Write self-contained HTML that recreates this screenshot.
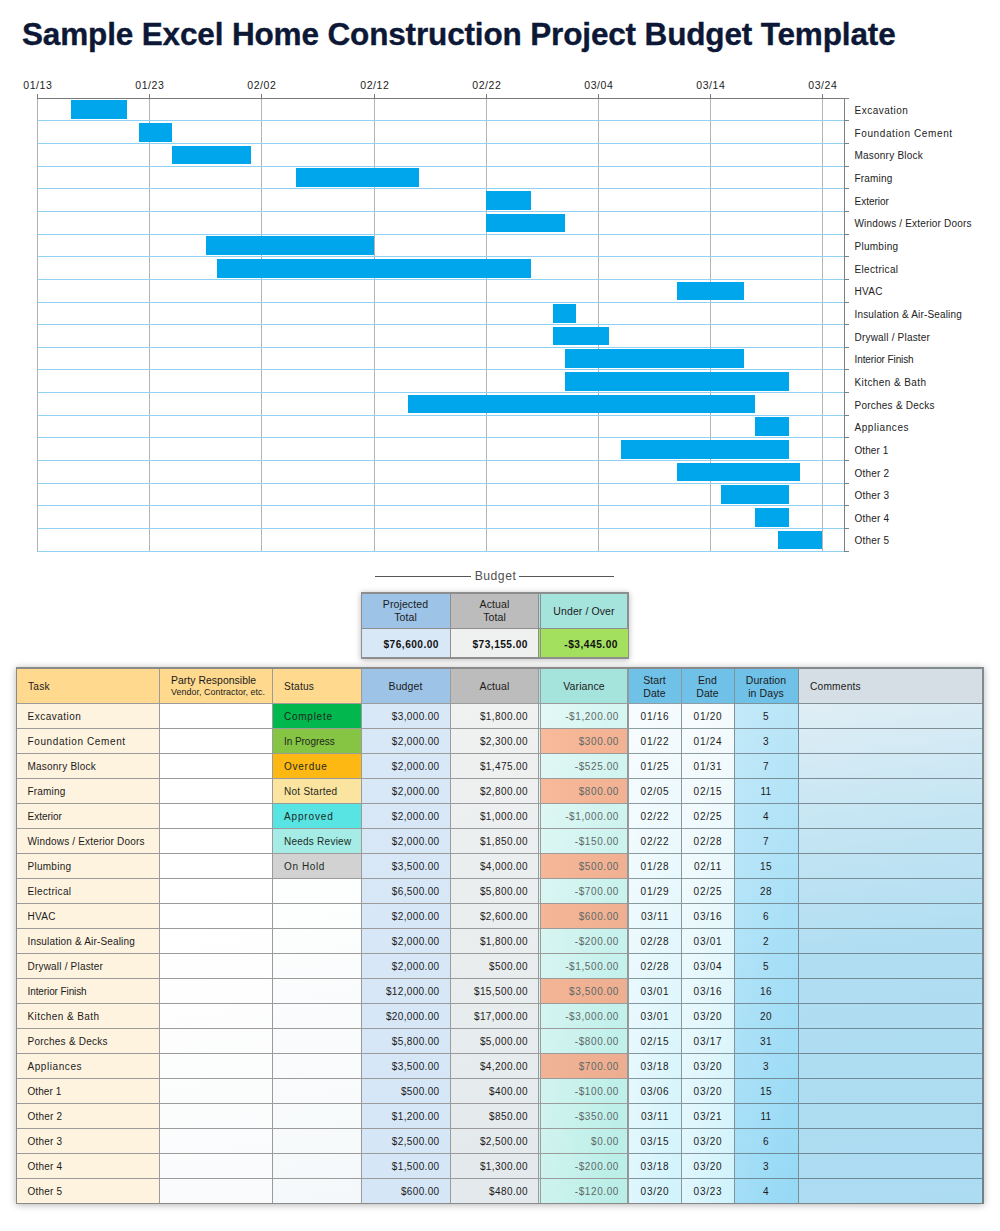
<!DOCTYPE html>
<html><head><meta charset="utf-8"><title>Sample Excel Home Construction Project Budget Template</title>
<style>
html,body{margin:0;padding:0;background:#fff;}
body{width:1000px;height:1231px;position:relative;overflow:hidden;font-family:"Liberation Sans",sans-serif;color:#1b1b1b;}
.a{position:absolute;white-space:nowrap;}
#title{left:22px;top:14px;-webkit-text-stroke:0.35px #0c1836;font-size:31.5px;font-weight:bold;color:#0c1836;letter-spacing:-0.15px;line-height:40px;}
svg{position:absolute;left:0;top:0;}
.t{font-size:10px;letter-spacing:0.45px;line-height:12px;}
.n{font-size:10px;letter-spacing:0.35px;line-height:12px;}
.h{font-size:10.5px;letter-spacing:0.1px;line-height:12.5px;text-align:center;}
.cb{position:absolute;}
.ln{position:absolute;background:#949899;}
</style></head><body>
<div id="title" class="a">Sample Excel Home Construction Project Budget Template</div>
<svg width="1000" height="600" viewBox="0 0 1000 600">
<line x1="149.5" y1="98" x2="149.5" y2="552" stroke="#b5b5b5" stroke-width="1"/>
<line x1="261.5" y1="98" x2="261.5" y2="552" stroke="#b5b5b5" stroke-width="1"/>
<line x1="374.5" y1="98" x2="374.5" y2="552" stroke="#b5b5b5" stroke-width="1"/>
<line x1="486.5" y1="98" x2="486.5" y2="552" stroke="#b5b5b5" stroke-width="1"/>
<line x1="598.5" y1="98" x2="598.5" y2="552" stroke="#b5b5b5" stroke-width="1"/>
<line x1="710.5" y1="98" x2="710.5" y2="552" stroke="#b5b5b5" stroke-width="1"/>
<line x1="822.5" y1="98" x2="822.5" y2="552" stroke="#b5b5b5" stroke-width="1"/>
<line x1="38" y1="120.50" x2="844" y2="120.50" stroke="#8fd3f4" stroke-width="1"/>
<line x1="38" y1="143.50" x2="844" y2="143.50" stroke="#8fd3f4" stroke-width="1"/>
<line x1="38" y1="166.50" x2="844" y2="166.50" stroke="#8fd3f4" stroke-width="1"/>
<line x1="38" y1="188.50" x2="844" y2="188.50" stroke="#8fd3f4" stroke-width="1"/>
<line x1="38" y1="211.50" x2="844" y2="211.50" stroke="#8fd3f4" stroke-width="1"/>
<line x1="38" y1="234.50" x2="844" y2="234.50" stroke="#8fd3f4" stroke-width="1"/>
<line x1="38" y1="256.50" x2="844" y2="256.50" stroke="#8fd3f4" stroke-width="1"/>
<line x1="38" y1="279.50" x2="844" y2="279.50" stroke="#8fd3f4" stroke-width="1"/>
<line x1="38" y1="302.50" x2="844" y2="302.50" stroke="#8fd3f4" stroke-width="1"/>
<line x1="38" y1="324.50" x2="844" y2="324.50" stroke="#8fd3f4" stroke-width="1"/>
<line x1="38" y1="347.50" x2="844" y2="347.50" stroke="#8fd3f4" stroke-width="1"/>
<line x1="38" y1="369.50" x2="844" y2="369.50" stroke="#8fd3f4" stroke-width="1"/>
<line x1="38" y1="392.50" x2="844" y2="392.50" stroke="#8fd3f4" stroke-width="1"/>
<line x1="38" y1="415.50" x2="844" y2="415.50" stroke="#8fd3f4" stroke-width="1"/>
<line x1="38" y1="437.50" x2="844" y2="437.50" stroke="#8fd3f4" stroke-width="1"/>
<line x1="38" y1="460.50" x2="844" y2="460.50" stroke="#8fd3f4" stroke-width="1"/>
<line x1="38" y1="483.50" x2="844" y2="483.50" stroke="#8fd3f4" stroke-width="1"/>
<line x1="38" y1="505.50" x2="844" y2="505.50" stroke="#8fd3f4" stroke-width="1"/>
<line x1="38" y1="528.50" x2="844" y2="528.50" stroke="#8fd3f4" stroke-width="1"/>
<line x1="38" y1="551.50" x2="844" y2="551.50" stroke="#8fd3f4" stroke-width="1"/>
<rect x="71" y="100" width="56" height="19" fill="#00a6ec" shape-rendering="crispEdges"/>
<rect x="139" y="123" width="33" height="19" fill="#00a6ec" shape-rendering="crispEdges"/>
<rect x="172" y="146" width="79" height="18" fill="#00a6ec" shape-rendering="crispEdges"/>
<rect x="296" y="168" width="123" height="19" fill="#00a6ec" shape-rendering="crispEdges"/>
<rect x="486" y="191" width="45" height="19" fill="#00a6ec" shape-rendering="crispEdges"/>
<rect x="486" y="214" width="79" height="18" fill="#00a6ec" shape-rendering="crispEdges"/>
<rect x="206" y="236" width="168" height="19" fill="#00a6ec" shape-rendering="crispEdges"/>
<rect x="217" y="259" width="314" height="19" fill="#00a6ec" shape-rendering="crispEdges"/>
<rect x="677" y="282" width="67" height="18" fill="#00a6ec" shape-rendering="crispEdges"/>
<rect x="553" y="304" width="23" height="19" fill="#00a6ec" shape-rendering="crispEdges"/>
<rect x="553" y="327" width="56" height="18" fill="#00a6ec" shape-rendering="crispEdges"/>
<rect x="565" y="349" width="179" height="19" fill="#00a6ec" shape-rendering="crispEdges"/>
<rect x="565" y="372" width="224" height="19" fill="#00a6ec" shape-rendering="crispEdges"/>
<rect x="408" y="395" width="347" height="18" fill="#00a6ec" shape-rendering="crispEdges"/>
<rect x="755" y="417" width="34" height="19" fill="#00a6ec" shape-rendering="crispEdges"/>
<rect x="621" y="440" width="168" height="19" fill="#00a6ec" shape-rendering="crispEdges"/>
<rect x="677" y="463" width="123" height="18" fill="#00a6ec" shape-rendering="crispEdges"/>
<rect x="721" y="485" width="68" height="19" fill="#00a6ec" shape-rendering="crispEdges"/>
<rect x="755" y="508" width="34" height="19" fill="#00a6ec" shape-rendering="crispEdges"/>
<rect x="778" y="531" width="44" height="18" fill="#00a6ec" shape-rendering="crispEdges"/>
<line x1="37.5" y1="98" x2="37.5" y2="552" stroke="#b0b0b0" stroke-width="1"/>
<line x1="37.5" y1="94" x2="37.5" y2="98.5" stroke="#7a7a7a" stroke-width="1"/>
<line x1="149.5" y1="94" x2="149.5" y2="98.5" stroke="#7a7a7a" stroke-width="1"/>
<line x1="261.5" y1="94" x2="261.5" y2="98.5" stroke="#7a7a7a" stroke-width="1"/>
<line x1="374.5" y1="94" x2="374.5" y2="98.5" stroke="#7a7a7a" stroke-width="1"/>
<line x1="486.5" y1="94" x2="486.5" y2="98.5" stroke="#7a7a7a" stroke-width="1"/>
<line x1="598.5" y1="94" x2="598.5" y2="98.5" stroke="#7a7a7a" stroke-width="1"/>
<line x1="710.5" y1="94" x2="710.5" y2="98.5" stroke="#7a7a7a" stroke-width="1"/>
<line x1="822.5" y1="94" x2="822.5" y2="98.5" stroke="#7a7a7a" stroke-width="1"/>
<line x1="37" y1="98.5" x2="849" y2="98.5" stroke="#7a7a7a" stroke-width="1.1"/>
<line x1="844.5" y1="98" x2="844.5" y2="552" stroke="#808080" stroke-width="1"/>
<line x1="844" y1="98.50" x2="849" y2="98.50" stroke="#808080" stroke-width="1"/>
<line x1="844" y1="120.50" x2="849" y2="120.50" stroke="#808080" stroke-width="1"/>
<line x1="844" y1="143.50" x2="849" y2="143.50" stroke="#808080" stroke-width="1"/>
<line x1="844" y1="166.50" x2="849" y2="166.50" stroke="#808080" stroke-width="1"/>
<line x1="844" y1="188.50" x2="849" y2="188.50" stroke="#808080" stroke-width="1"/>
<line x1="844" y1="211.50" x2="849" y2="211.50" stroke="#808080" stroke-width="1"/>
<line x1="844" y1="234.50" x2="849" y2="234.50" stroke="#808080" stroke-width="1"/>
<line x1="844" y1="256.50" x2="849" y2="256.50" stroke="#808080" stroke-width="1"/>
<line x1="844" y1="279.50" x2="849" y2="279.50" stroke="#808080" stroke-width="1"/>
<line x1="844" y1="302.50" x2="849" y2="302.50" stroke="#808080" stroke-width="1"/>
<line x1="844" y1="324.50" x2="849" y2="324.50" stroke="#808080" stroke-width="1"/>
<line x1="844" y1="347.50" x2="849" y2="347.50" stroke="#808080" stroke-width="1"/>
<line x1="844" y1="369.50" x2="849" y2="369.50" stroke="#808080" stroke-width="1"/>
<line x1="844" y1="392.50" x2="849" y2="392.50" stroke="#808080" stroke-width="1"/>
<line x1="844" y1="415.50" x2="849" y2="415.50" stroke="#808080" stroke-width="1"/>
<line x1="844" y1="437.50" x2="849" y2="437.50" stroke="#808080" stroke-width="1"/>
<line x1="844" y1="460.50" x2="849" y2="460.50" stroke="#808080" stroke-width="1"/>
<line x1="844" y1="483.50" x2="849" y2="483.50" stroke="#808080" stroke-width="1"/>
<line x1="844" y1="505.50" x2="849" y2="505.50" stroke="#808080" stroke-width="1"/>
<line x1="844" y1="528.50" x2="849" y2="528.50" stroke="#808080" stroke-width="1"/>
<line x1="844" y1="551.50" x2="849" y2="551.50" stroke="#808080" stroke-width="1"/>
<text x="37.8" y="88.8" font-family="Liberation Sans" font-size="10.5" fill="#222" text-anchor="middle" letter-spacing="0.55">01/13</text>
<text x="149.8" y="88.8" font-family="Liberation Sans" font-size="10.5" fill="#222" text-anchor="middle" letter-spacing="0.55">01/23</text>
<text x="261.8" y="88.8" font-family="Liberation Sans" font-size="10.5" fill="#222" text-anchor="middle" letter-spacing="0.55">02/02</text>
<text x="374.8" y="88.8" font-family="Liberation Sans" font-size="10.5" fill="#222" text-anchor="middle" letter-spacing="0.55">02/12</text>
<text x="486.8" y="88.8" font-family="Liberation Sans" font-size="10.5" fill="#222" text-anchor="middle" letter-spacing="0.55">02/22</text>
<text x="598.8" y="88.8" font-family="Liberation Sans" font-size="10.5" fill="#222" text-anchor="middle" letter-spacing="0.55">03/04</text>
<text x="710.8" y="88.8" font-family="Liberation Sans" font-size="10.5" fill="#222" text-anchor="middle" letter-spacing="0.55">03/14</text>
<text x="822.8" y="88.8" font-family="Liberation Sans" font-size="10.5" fill="#222" text-anchor="middle" letter-spacing="0.55">03/24</text>
<text x="854.5" y="114.12" font-family="Liberation Sans" font-size="10" fill="#222" letter-spacing="0.5">Excavation</text>
<text x="854.5" y="136.78" font-family="Liberation Sans" font-size="10" fill="#222" letter-spacing="0.61">Foundation Cement</text>
<text x="854.5" y="159.43" font-family="Liberation Sans" font-size="10" fill="#222" letter-spacing="0.22">Masonry Block</text>
<text x="854.5" y="182.07" font-family="Liberation Sans" font-size="10" fill="#222" letter-spacing="0.18">Framing</text>
<text x="854.5" y="204.72" font-family="Liberation Sans" font-size="10" fill="#222" letter-spacing="0.0">Exterior</text>
<text x="854.5" y="227.38" font-family="Liberation Sans" font-size="10" fill="#222" letter-spacing="0.18">Windows / Exterior Doors</text>
<text x="854.5" y="250.02" font-family="Liberation Sans" font-size="10" fill="#222" letter-spacing="0.27">Plumbing</text>
<text x="854.5" y="272.67" font-family="Liberation Sans" font-size="10" fill="#222" letter-spacing="0.33">Electrical</text>
<text x="854.5" y="295.32" font-family="Liberation Sans" font-size="10" fill="#222" letter-spacing="0.33">HVAC</text>
<text x="854.5" y="317.98" font-family="Liberation Sans" font-size="10" fill="#222" letter-spacing="0.17">Insulation &amp; Air-Sealing</text>
<text x="854.5" y="340.62" font-family="Liberation Sans" font-size="10" fill="#222" letter-spacing="0.2">Drywall / Plaster</text>
<text x="854.5" y="363.27" font-family="Liberation Sans" font-size="10" fill="#222" letter-spacing="-0.1">Interior Finish</text>
<text x="854.5" y="385.92" font-family="Liberation Sans" font-size="10" fill="#222" letter-spacing="0.41">Kitchen &amp; Bath</text>
<text x="854.5" y="408.57" font-family="Liberation Sans" font-size="10" fill="#222" letter-spacing="0.24">Porches &amp; Decks</text>
<text x="854.5" y="431.22" font-family="Liberation Sans" font-size="10" fill="#222" letter-spacing="0.57">Appliances</text>
<text x="854.5" y="453.88" font-family="Liberation Sans" font-size="10" fill="#222" letter-spacing="0.08">Other 1</text>
<text x="854.5" y="476.52" font-family="Liberation Sans" font-size="10" fill="#222" letter-spacing="0.2">Other 2</text>
<text x="854.5" y="499.17" font-family="Liberation Sans" font-size="10" fill="#222" letter-spacing="0.2">Other 3</text>
<text x="854.5" y="521.82" font-family="Liberation Sans" font-size="10" fill="#222" letter-spacing="0.2">Other 4</text>
<text x="854.5" y="544.47" font-family="Liberation Sans" font-size="10" fill="#222" letter-spacing="0.2">Other 5</text>
<line x1="375" y1="576.5" x2="471" y2="576.5" stroke="#555" stroke-width="1"/>
<line x1="519" y1="576.5" x2="614" y2="576.5" stroke="#555" stroke-width="1"/>
<text x="495.5" y="580.2" font-family="Liberation Sans" font-size="12.2" fill="#505050" text-anchor="middle" letter-spacing="0.5">Budget</text>
</svg>
<div class="a" style="left:361px;top:592px;width:268px;height:67px;box-shadow:0 1px 6px rgba(0,0,0,0.28);"></div>
<div class="cb" style="left:361px;top:592px;width:268px;height:67px;background:#8e8e8e;"></div>
<div class="cb" style="left:362px;top:594px;width:88px;height:34px;background:#9dc3e7;"></div>
<div class="cb" style="left:451px;top:594px;width:87px;height:34px;background:#bbbcbb;"></div>
<div class="cb" style="left:539px;top:594px;width:1px;height:34px;background:#a5e3dd;"></div>
<div class="cb" style="left:541px;top:594px;width:86px;height:34px;background:#a5e3dd;"></div>
<div class="cb" style="left:362px;top:629px;width:88px;height:28px;background:#d9e8f7;"></div>
<div class="cb" style="left:451px;top:629px;width:87px;height:28px;background:#eff0f0;"></div>
<div class="cb" style="left:539px;top:629px;width:1px;height:28px;background:#a3e05e;"></div>
<div class="cb" style="left:541px;top:629px;width:87px;height:28px;background:#a3e05e;"></div>
<div class="a h" style="left:361px;top:598px;width:89px;">Projected<br>Total</div>
<div class="a h" style="left:450px;top:598px;width:89px;">Actual<br>Total</div>
<div class="a h" style="left:540px;top:605px;width:88px;">Under / Over</div>
<div class="a" style="left:361px;top:638.5px;width:78px;text-align:right;font-size:10.2px;font-weight:bold;letter-spacing:0.45px;line-height:12px;color:#111;">$76,600.00</div>
<div class="a" style="left:450px;top:638.5px;width:78px;text-align:right;font-size:10.2px;font-weight:bold;letter-spacing:0.45px;line-height:12px;color:#111;">$73,155.00</div>
<div class="a" style="left:540px;top:638.5px;width:78px;text-align:right;font-size:10.2px;font-weight:bold;letter-spacing:0.5px;line-height:12px;color:#111;">-$3,445.00</div>
<div class="a" style="left:16px;top:667px;width:968px;height:537px;box-shadow:0 1px 7px rgba(0,0,0,0.3);background:#fff;"></div>
<div class="cb" style="left:16px;top:667px;width:144px;height:36px;background:#fed98e;"></div>
<div class="cb" style="left:16px;top:703px;width:144px;height:501px;background:#fef3df;"></div>
<div class="cb" style="left:160px;top:667px;width:113px;height:36px;background:#fed98e;"></div>
<div class="cb" style="left:160px;top:703px;width:113px;height:501px;background:linear-gradient(170deg,#ffffff 0%,#ffffff 40%,#fafbfc 100%);"></div>
<div class="cb" style="left:273px;top:667px;width:89px;height:36px;background:#fed98e;"></div>
<div class="cb" style="left:273px;top:703px;width:89px;height:501px;background:linear-gradient(170deg,#ffffff 0%,#fdfefe 40%,#f5f8fa 100%);"></div>
<div class="cb" style="left:362px;top:667px;width:89px;height:36px;background:#9dc3e7;"></div>
<div class="cb" style="left:362px;top:703px;width:89px;height:501px;background:linear-gradient(175deg,#d9e8f7 0%,#d5e6f6 100%);"></div>
<div class="cb" style="left:451px;top:667px;width:88px;height:36px;background:#bbbcbb;"></div>
<div class="cb" style="left:451px;top:703px;width:88px;height:501px;background:linear-gradient(175deg,#f0f1f1 0%,#e9edee 50%,#e3e9ec 100%);"></div>
<div class="cb" style="left:539px;top:667px;width:89px;height:36px;background:#a5e3dd;"></div>
<div class="cb" style="left:539px;top:703px;width:89px;height:501px;background:linear-gradient(90deg,rgba(255,255,255,0.3),rgba(255,255,255,0) 85%),linear-gradient(175deg,#d7f6f2 0%,#c6f1ec 50%,#b9eee7 100%);"></div>
<div class="cb" style="left:628px;top:667px;width:54px;height:36px;background:#70c1e8;"></div>
<div class="cb" style="left:628px;top:703px;width:54px;height:501px;background:linear-gradient(90deg,rgba(255,255,255,0.3),rgba(255,255,255,0) 90%),linear-gradient(172deg,#f6fbfd 0%,#e3f7fc 50%,#d0f3fc 100%);"></div>
<div class="cb" style="left:682px;top:667px;width:53px;height:36px;background:#70c1e8;"></div>
<div class="cb" style="left:682px;top:703px;width:53px;height:501px;background:linear-gradient(90deg,rgba(255,255,255,0.3),rgba(255,255,255,0) 90%),linear-gradient(172deg,#f6fbfd 0%,#e3f7fc 50%,#d0f3fc 100%);"></div>
<div class="cb" style="left:735px;top:667px;width:64px;height:36px;background:#70c1e8;"></div>
<div class="cb" style="left:735px;top:703px;width:64px;height:501px;background:linear-gradient(90deg,rgba(255,255,255,0.12),rgba(255,255,255,0) 90%),linear-gradient(175deg,#bbe6f8 0%,#a6dff7 50%,#96d9f5 100%);"></div>
<div class="cb" style="left:799px;top:667px;width:185px;height:36px;background:#d4dee4;"></div>
<div class="cb" style="left:799px;top:703px;width:185px;height:501px;background:linear-gradient(172deg,#e0eef5 0%,#c4e5f3 25%,#b0ddf2 50%,#acdcf2 100%);"></div>
<div class="cb" style="left:273px;top:704px;width:89px;height:24px;background:#02b74e;"></div>
<div class="cb" style="left:273px;top:729px;width:89px;height:24px;background:#86c444;"></div>
<div class="cb" style="left:541px;top:729px;width:87px;height:24px;background:linear-gradient(90deg,rgb(248, 186, 154),rgb(242, 177, 146));"></div>
<div class="cb" style="left:273px;top:754px;width:89px;height:24px;background:#fdb813;"></div>
<div class="cb" style="left:273px;top:779px;width:89px;height:24px;background:#fbe3a0;"></div>
<div class="cb" style="left:541px;top:779px;width:87px;height:24px;background:linear-gradient(90deg,rgb(247, 185, 153),rgb(241, 177, 146));"></div>
<div class="cb" style="left:273px;top:804px;width:89px;height:24px;background:#57e4e2;"></div>
<div class="cb" style="left:273px;top:829px;width:89px;height:24px;background:#a5ece6;"></div>
<div class="cb" style="left:273px;top:854px;width:89px;height:24px;background:#d2d2d2;"></div>
<div class="cb" style="left:541px;top:854px;width:87px;height:24px;background:linear-gradient(90deg,rgb(245, 183, 152),rgb(240, 176, 145));"></div>
<div class="cb" style="left:541px;top:904px;width:87px;height:24px;background:linear-gradient(90deg,rgb(244, 182, 151),rgb(239, 175, 145));"></div>
<div class="cb" style="left:541px;top:979px;width:87px;height:24px;background:linear-gradient(90deg,rgb(243, 181, 150),rgb(238, 174, 144));"></div>
<div class="cb" style="left:541px;top:1054px;width:87px;height:24px;background:linear-gradient(90deg,rgb(241, 179, 149),rgb(237, 173, 144));"></div>
<div class="cb" style="left:16px;top:703px;width:612px;height:1px;background:#9b9b9b;"></div>
<div class="cb" style="left:628px;top:703px;width:107px;height:1px;background:#8f9da2;"></div>
<div class="cb" style="left:735px;top:703px;width:64px;height:1px;background:#7f939b;"></div>
<div class="cb" style="left:799px;top:703px;width:185px;height:1px;background:#808e95;"></div>
<div class="cb" style="left:16px;top:728px;width:612px;height:1px;background:#9b9b9b;"></div>
<div class="cb" style="left:628px;top:728px;width:107px;height:1px;background:#8e9da2;"></div>
<div class="cb" style="left:735px;top:728px;width:64px;height:1px;background:#7e939b;"></div>
<div class="cb" style="left:799px;top:728px;width:185px;height:1px;background:#7f8e95;"></div>
<div class="cb" style="left:16px;top:753px;width:612px;height:1px;background:#9b9b9b;"></div>
<div class="cb" style="left:628px;top:753px;width:107px;height:1px;background:#8e9ca2;"></div>
<div class="cb" style="left:735px;top:753px;width:64px;height:1px;background:#7d929b;"></div>
<div class="cb" style="left:799px;top:753px;width:185px;height:1px;background:#7e8e95;"></div>
<div class="cb" style="left:16px;top:778px;width:612px;height:1px;background:#9b9b9b;"></div>
<div class="cb" style="left:628px;top:778px;width:107px;height:1px;background:#8d9ca1;"></div>
<div class="cb" style="left:735px;top:778px;width:64px;height:1px;background:#7c929b;"></div>
<div class="cb" style="left:799px;top:778px;width:185px;height:1px;background:#7d8d95;"></div>
<div class="cb" style="left:16px;top:803px;width:612px;height:1px;background:#9b9b9b;"></div>
<div class="cb" style="left:628px;top:803px;width:107px;height:1px;background:#8c9ca1;"></div>
<div class="cb" style="left:735px;top:803px;width:64px;height:1px;background:#7c929a;"></div>
<div class="cb" style="left:799px;top:803px;width:185px;height:1px;background:#7c8d95;"></div>
<div class="cb" style="left:16px;top:828px;width:612px;height:1px;background:#9b9b9b;"></div>
<div class="cb" style="left:628px;top:828px;width:107px;height:1px;background:#8c9ba1;"></div>
<div class="cb" style="left:735px;top:828px;width:64px;height:1px;background:#7b919a;"></div>
<div class="cb" style="left:799px;top:828px;width:185px;height:1px;background:#7b8d95;"></div>
<div class="cb" style="left:16px;top:853px;width:612px;height:1px;background:#9b9b9b;"></div>
<div class="cb" style="left:628px;top:853px;width:107px;height:1px;background:#8b9ba1;"></div>
<div class="cb" style="left:735px;top:853px;width:64px;height:1px;background:#7a919a;"></div>
<div class="cb" style="left:799px;top:853px;width:185px;height:1px;background:#7a8d95;"></div>
<div class="cb" style="left:16px;top:878px;width:612px;height:1px;background:#9b9b9b;"></div>
<div class="cb" style="left:628px;top:878px;width:107px;height:1px;background:#8a9aa1;"></div>
<div class="cb" style="left:735px;top:878px;width:64px;height:1px;background:#79909a;"></div>
<div class="cb" style="left:799px;top:878px;width:185px;height:1px;background:#798d95;"></div>
<div class="cb" style="left:16px;top:903px;width:612px;height:1px;background:#9b9b9b;"></div>
<div class="cb" style="left:628px;top:903px;width:107px;height:1px;background:#8a9aa0;"></div>
<div class="cb" style="left:735px;top:903px;width:64px;height:1px;background:#78909a;"></div>
<div class="cb" style="left:799px;top:903px;width:185px;height:1px;background:#788c95;"></div>
<div class="cb" style="left:16px;top:928px;width:612px;height:1px;background:#9b9b9b;"></div>
<div class="cb" style="left:628px;top:928px;width:107px;height:1px;background:#899aa0;"></div>
<div class="cb" style="left:735px;top:928px;width:64px;height:1px;background:#77909a;"></div>
<div class="cb" style="left:799px;top:928px;width:185px;height:1px;background:#778c95;"></div>
<div class="cb" style="left:16px;top:953px;width:612px;height:1px;background:#9b9b9b;"></div>
<div class="cb" style="left:628px;top:953px;width:107px;height:1px;background:#8899a0;"></div>
<div class="cb" style="left:735px;top:953px;width:64px;height:1px;background:#778f99;"></div>
<div class="cb" style="left:799px;top:953px;width:185px;height:1px;background:#758c96;"></div>
<div class="cb" style="left:16px;top:978px;width:612px;height:1px;background:#9b9b9b;"></div>
<div class="cb" style="left:628px;top:978px;width:107px;height:1px;background:#8799a0;"></div>
<div class="cb" style="left:735px;top:978px;width:64px;height:1px;background:#768f99;"></div>
<div class="cb" style="left:799px;top:978px;width:185px;height:1px;background:#748c96;"></div>
<div class="cb" style="left:16px;top:1003px;width:612px;height:1px;background:#9b9b9b;"></div>
<div class="cb" style="left:628px;top:1003px;width:107px;height:1px;background:#87999f;"></div>
<div class="cb" style="left:735px;top:1003px;width:64px;height:1px;background:#758f99;"></div>
<div class="cb" style="left:799px;top:1003px;width:185px;height:1px;background:#738b96;"></div>
<div class="cb" style="left:16px;top:1028px;width:612px;height:1px;background:#9b9b9b;"></div>
<div class="cb" style="left:628px;top:1028px;width:107px;height:1px;background:#86989f;"></div>
<div class="cb" style="left:735px;top:1028px;width:64px;height:1px;background:#748e99;"></div>
<div class="cb" style="left:799px;top:1028px;width:185px;height:1px;background:#728b96;"></div>
<div class="cb" style="left:16px;top:1053px;width:612px;height:1px;background:#9b9b9b;"></div>
<div class="cb" style="left:628px;top:1053px;width:107px;height:1px;background:#85989f;"></div>
<div class="cb" style="left:735px;top:1053px;width:64px;height:1px;background:#738e99;"></div>
<div class="cb" style="left:799px;top:1053px;width:185px;height:1px;background:#718b96;"></div>
<div class="cb" style="left:16px;top:1078px;width:612px;height:1px;background:#9b9b9b;"></div>
<div class="cb" style="left:628px;top:1078px;width:107px;height:1px;background:#85979f;"></div>
<div class="cb" style="left:735px;top:1078px;width:64px;height:1px;background:#728d99;"></div>
<div class="cb" style="left:799px;top:1078px;width:185px;height:1px;background:#708b96;"></div>
<div class="cb" style="left:16px;top:1103px;width:612px;height:1px;background:#9b9b9b;"></div>
<div class="cb" style="left:628px;top:1103px;width:107px;height:1px;background:#84979f;"></div>
<div class="cb" style="left:735px;top:1103px;width:64px;height:1px;background:#728d98;"></div>
<div class="cb" style="left:799px;top:1103px;width:185px;height:1px;background:#6f8b96;"></div>
<div class="cb" style="left:16px;top:1128px;width:612px;height:1px;background:#9b9b9b;"></div>
<div class="cb" style="left:628px;top:1128px;width:107px;height:1px;background:#83979e;"></div>
<div class="cb" style="left:735px;top:1128px;width:64px;height:1px;background:#718d98;"></div>
<div class="cb" style="left:799px;top:1128px;width:185px;height:1px;background:#6e8a96;"></div>
<div class="cb" style="left:16px;top:1153px;width:612px;height:1px;background:#9b9b9b;"></div>
<div class="cb" style="left:628px;top:1153px;width:107px;height:1px;background:#83969e;"></div>
<div class="cb" style="left:735px;top:1153px;width:64px;height:1px;background:#708c98;"></div>
<div class="cb" style="left:799px;top:1153px;width:185px;height:1px;background:#6d8a96;"></div>
<div class="cb" style="left:16px;top:1178px;width:612px;height:1px;background:#9b9b9b;"></div>
<div class="cb" style="left:628px;top:1178px;width:107px;height:1px;background:#82969e;"></div>
<div class="cb" style="left:735px;top:1178px;width:64px;height:1px;background:#6f8c98;"></div>
<div class="cb" style="left:799px;top:1178px;width:185px;height:1px;background:#6c8a96;"></div>
<div class="cb" style="left:159px;top:669px;width:1px;height:534px;background:#9b9b9b;"></div>
<div class="cb" style="left:272px;top:669px;width:1px;height:534px;background:#9b9b9b;"></div>
<div class="cb" style="left:361px;top:669px;width:1px;height:534px;background:#9b9b9b;"></div>
<div class="cb" style="left:450px;top:669px;width:1px;height:534px;background:#9b9b9b;"></div>
<div class="cb" style="left:538px;top:669px;width:1px;height:534px;background:#9b9b9b;"></div>
<div class="cb" style="left:540px;top:669px;width:1px;height:534px;background:#9b9b9b;"></div>
<div class="cb" style="left:627px;top:669px;width:2px;height:534px;background:#939899;"></div>
<div class="cb" style="left:681px;top:669px;width:1px;height:534px;background:#88999f;"></div>
<div class="cb" style="left:734px;top:669px;width:1px;height:534px;background:#7f939b;"></div>
<div class="cb" style="left:798px;top:669px;width:1px;height:534px;background:#76909a;"></div>
<div class="cb" style="left:16px;top:667px;width:968px;height:2px;background:linear-gradient(90deg,#8a8a8a 60%,#808a8f);"></div>
<div class="cb" style="left:16px;top:1203px;width:968px;height:1px;background:linear-gradient(90deg,#8a8a8a 60%,#6f8089);"></div>
<div class="cb" style="left:16px;top:669px;width:1px;height:534px;background:#8a8a8a;"></div>
<div class="cb" style="left:982px;top:669px;width:2px;height:534px;background:linear-gradient(#7f8b91,#6f8089);"></div>
<div class="a t" style="left:28px;top:681px;font-size:10.2px;letter-spacing:0.2px;">Task</div>
<div class="a" style="left:171px;top:675px;font-size:10.4px;letter-spacing:0.05px;line-height:12px;">Party Responsible</div>
<div class="a" style="left:171px;top:687px;font-size:8.9px;letter-spacing:0.05px;line-height:10px;">Vendor, Contractor, etc.</div>
<div class="a t" style="left:284px;top:681px;font-size:10.2px;letter-spacing:0.2px;">Status</div>
<div class="a h" style="left:361px;top:680px;width:89px;">Budget</div>
<div class="a h" style="left:450px;top:680px;width:89px;">Actual</div>
<div class="a h" style="left:540px;top:680px;width:88px;">Variance</div>
<div class="a h" style="left:628px;top:674px;width:53px;">Start<br>Date</div>
<div class="a h" style="left:681px;top:674px;width:53px;">End<br>Date</div>
<div class="a h" style="left:734px;top:674px;width:64px;">Duration<br>in Days</div>
<div class="a t" style="left:810px;top:681px;font-size:10.2px;letter-spacing:0.2px;">Comments</div>
<div class="a t" style="left:27.5px;top:711px;letter-spacing:0.5px;">Excavation</div>
<div class="a t" style="left:284px;top:711px;color:#1d2a1d;letter-spacing:0.74px;">Complete</div>
<div class="a n" style="left:361px;top:711px;width:78.5px;text-align:right;">$3,000.00</div>
<div class="a n" style="left:450px;top:711px;width:78px;text-align:right;letter-spacing:0.4px;">$1,800.00</div>
<div class="a n" style="left:540px;top:711px;width:79px;text-align:right;color:#5d6968;letter-spacing:0.6px;">-$1,200.00</div>
<div class="a n" style="left:628.5px;top:711px;width:53px;text-align:center;letter-spacing:0.75px;">01/16</div>
<div class="a n" style="left:681.5px;top:711px;width:53px;text-align:center;letter-spacing:0.75px;">01/20</div>
<div class="a n" style="left:734px;top:711px;width:64px;text-align:center;">5</div>
<div class="a t" style="left:27.5px;top:736px;letter-spacing:0.61px;">Foundation Cement</div>
<div class="a t" style="left:284px;top:736px;color:#1d2a1d;letter-spacing:-0.05px;">In Progress</div>
<div class="a n" style="left:361px;top:736px;width:78.5px;text-align:right;">$2,000.00</div>
<div class="a n" style="left:450px;top:736px;width:78px;text-align:right;letter-spacing:0.4px;">$2,300.00</div>
<div class="a n" style="left:540px;top:736px;width:79px;text-align:right;color:#5d6968;letter-spacing:0.6px;">$300.00</div>
<div class="a n" style="left:628.5px;top:736px;width:53px;text-align:center;letter-spacing:0.75px;">01/22</div>
<div class="a n" style="left:681.5px;top:736px;width:53px;text-align:center;letter-spacing:0.75px;">01/24</div>
<div class="a n" style="left:734px;top:736px;width:64px;text-align:center;">3</div>
<div class="a t" style="left:27.5px;top:761px;letter-spacing:0.22px;">Masonry Block</div>
<div class="a t" style="left:284px;top:761px;color:#1d2a1d;letter-spacing:0.75px;">Overdue</div>
<div class="a n" style="left:361px;top:761px;width:78.5px;text-align:right;">$2,000.00</div>
<div class="a n" style="left:450px;top:761px;width:78px;text-align:right;letter-spacing:0.4px;">$1,475.00</div>
<div class="a n" style="left:540px;top:761px;width:79px;text-align:right;color:#5d6968;letter-spacing:0.6px;">-$525.00</div>
<div class="a n" style="left:628.5px;top:761px;width:53px;text-align:center;letter-spacing:0.75px;">01/25</div>
<div class="a n" style="left:681.5px;top:761px;width:53px;text-align:center;letter-spacing:0.75px;">01/31</div>
<div class="a n" style="left:734px;top:761px;width:64px;text-align:center;">7</div>
<div class="a t" style="left:27.5px;top:786px;letter-spacing:0.18px;">Framing</div>
<div class="a t" style="left:284px;top:786px;color:#1d2a1d;letter-spacing:0.26px;">Not Started</div>
<div class="a n" style="left:361px;top:786px;width:78.5px;text-align:right;">$2,000.00</div>
<div class="a n" style="left:450px;top:786px;width:78px;text-align:right;letter-spacing:0.4px;">$2,800.00</div>
<div class="a n" style="left:540px;top:786px;width:79px;text-align:right;color:#5d6968;letter-spacing:0.6px;">$800.00</div>
<div class="a n" style="left:628.5px;top:786px;width:53px;text-align:center;letter-spacing:0.75px;">02/05</div>
<div class="a n" style="left:681.5px;top:786px;width:53px;text-align:center;letter-spacing:0.75px;">02/15</div>
<div class="a n" style="left:734px;top:786px;width:64px;text-align:center;">11</div>
<div class="a t" style="left:27.5px;top:811px;letter-spacing:0.0px;">Exterior</div>
<div class="a t" style="left:284px;top:811px;color:#1d2a1d;letter-spacing:0.85px;">Approved</div>
<div class="a n" style="left:361px;top:811px;width:78.5px;text-align:right;">$2,000.00</div>
<div class="a n" style="left:450px;top:811px;width:78px;text-align:right;letter-spacing:0.4px;">$1,000.00</div>
<div class="a n" style="left:540px;top:811px;width:79px;text-align:right;color:#5d6968;letter-spacing:0.6px;">-$1,000.00</div>
<div class="a n" style="left:628.5px;top:811px;width:53px;text-align:center;letter-spacing:0.75px;">02/22</div>
<div class="a n" style="left:681.5px;top:811px;width:53px;text-align:center;letter-spacing:0.75px;">02/25</div>
<div class="a n" style="left:734px;top:811px;width:64px;text-align:center;">4</div>
<div class="a t" style="left:27.5px;top:836px;letter-spacing:0.18px;">Windows / Exterior Doors</div>
<div class="a t" style="left:284px;top:836px;color:#1d2a1d;letter-spacing:0.24px;">Needs Review</div>
<div class="a n" style="left:361px;top:836px;width:78.5px;text-align:right;">$2,000.00</div>
<div class="a n" style="left:450px;top:836px;width:78px;text-align:right;letter-spacing:0.4px;">$1,850.00</div>
<div class="a n" style="left:540px;top:836px;width:79px;text-align:right;color:#5d6968;letter-spacing:0.6px;">-$150.00</div>
<div class="a n" style="left:628.5px;top:836px;width:53px;text-align:center;letter-spacing:0.75px;">02/22</div>
<div class="a n" style="left:681.5px;top:836px;width:53px;text-align:center;letter-spacing:0.75px;">02/28</div>
<div class="a n" style="left:734px;top:836px;width:64px;text-align:center;">7</div>
<div class="a t" style="left:27.5px;top:861px;letter-spacing:0.27px;">Plumbing</div>
<div class="a t" style="left:284px;top:861px;color:#1d2a1d;letter-spacing:0.6px;">On Hold</div>
<div class="a n" style="left:361px;top:861px;width:78.5px;text-align:right;">$3,500.00</div>
<div class="a n" style="left:450px;top:861px;width:78px;text-align:right;letter-spacing:0.4px;">$4,000.00</div>
<div class="a n" style="left:540px;top:861px;width:79px;text-align:right;color:#5d6968;letter-spacing:0.6px;">$500.00</div>
<div class="a n" style="left:628.5px;top:861px;width:53px;text-align:center;letter-spacing:0.75px;">01/28</div>
<div class="a n" style="left:681.5px;top:861px;width:53px;text-align:center;letter-spacing:0.75px;">02/11</div>
<div class="a n" style="left:734px;top:861px;width:64px;text-align:center;">15</div>
<div class="a t" style="left:27.5px;top:886px;letter-spacing:0.33px;">Electrical</div>
<div class="a n" style="left:361px;top:886px;width:78.5px;text-align:right;">$6,500.00</div>
<div class="a n" style="left:450px;top:886px;width:78px;text-align:right;letter-spacing:0.4px;">$5,800.00</div>
<div class="a n" style="left:540px;top:886px;width:79px;text-align:right;color:#5d6968;letter-spacing:0.6px;">-$700.00</div>
<div class="a n" style="left:628.5px;top:886px;width:53px;text-align:center;letter-spacing:0.75px;">01/29</div>
<div class="a n" style="left:681.5px;top:886px;width:53px;text-align:center;letter-spacing:0.75px;">02/25</div>
<div class="a n" style="left:734px;top:886px;width:64px;text-align:center;">28</div>
<div class="a t" style="left:27.5px;top:911px;letter-spacing:0.33px;">HVAC</div>
<div class="a n" style="left:361px;top:911px;width:78.5px;text-align:right;">$2,000.00</div>
<div class="a n" style="left:450px;top:911px;width:78px;text-align:right;letter-spacing:0.4px;">$2,600.00</div>
<div class="a n" style="left:540px;top:911px;width:79px;text-align:right;color:#5d6968;letter-spacing:0.6px;">$600.00</div>
<div class="a n" style="left:628.5px;top:911px;width:53px;text-align:center;letter-spacing:0.75px;">03/11</div>
<div class="a n" style="left:681.5px;top:911px;width:53px;text-align:center;letter-spacing:0.75px;">03/16</div>
<div class="a n" style="left:734px;top:911px;width:64px;text-align:center;">6</div>
<div class="a t" style="left:27.5px;top:936px;letter-spacing:0.17px;">Insulation &amp; Air-Sealing</div>
<div class="a n" style="left:361px;top:936px;width:78.5px;text-align:right;">$2,000.00</div>
<div class="a n" style="left:450px;top:936px;width:78px;text-align:right;letter-spacing:0.4px;">$1,800.00</div>
<div class="a n" style="left:540px;top:936px;width:79px;text-align:right;color:#5d6968;letter-spacing:0.6px;">-$200.00</div>
<div class="a n" style="left:628.5px;top:936px;width:53px;text-align:center;letter-spacing:0.75px;">02/28</div>
<div class="a n" style="left:681.5px;top:936px;width:53px;text-align:center;letter-spacing:0.75px;">03/01</div>
<div class="a n" style="left:734px;top:936px;width:64px;text-align:center;">2</div>
<div class="a t" style="left:27.5px;top:961px;letter-spacing:0.2px;">Drywall / Plaster</div>
<div class="a n" style="left:361px;top:961px;width:78.5px;text-align:right;">$2,000.00</div>
<div class="a n" style="left:450px;top:961px;width:78px;text-align:right;letter-spacing:0.4px;">$500.00</div>
<div class="a n" style="left:540px;top:961px;width:79px;text-align:right;color:#5d6968;letter-spacing:0.6px;">-$1,500.00</div>
<div class="a n" style="left:628.5px;top:961px;width:53px;text-align:center;letter-spacing:0.75px;">02/28</div>
<div class="a n" style="left:681.5px;top:961px;width:53px;text-align:center;letter-spacing:0.75px;">03/04</div>
<div class="a n" style="left:734px;top:961px;width:64px;text-align:center;">5</div>
<div class="a t" style="left:27.5px;top:986px;letter-spacing:-0.1px;">Interior Finish</div>
<div class="a n" style="left:361px;top:986px;width:78.5px;text-align:right;">$12,000.00</div>
<div class="a n" style="left:450px;top:986px;width:78px;text-align:right;letter-spacing:0.4px;">$15,500.00</div>
<div class="a n" style="left:540px;top:986px;width:79px;text-align:right;color:#5d6968;letter-spacing:0.6px;">$3,500.00</div>
<div class="a n" style="left:628.5px;top:986px;width:53px;text-align:center;letter-spacing:0.75px;">03/01</div>
<div class="a n" style="left:681.5px;top:986px;width:53px;text-align:center;letter-spacing:0.75px;">03/16</div>
<div class="a n" style="left:734px;top:986px;width:64px;text-align:center;">16</div>
<div class="a t" style="left:27.5px;top:1011px;letter-spacing:0.41px;">Kitchen &amp; Bath</div>
<div class="a n" style="left:361px;top:1011px;width:78.5px;text-align:right;">$20,000.00</div>
<div class="a n" style="left:450px;top:1011px;width:78px;text-align:right;letter-spacing:0.4px;">$17,000.00</div>
<div class="a n" style="left:540px;top:1011px;width:79px;text-align:right;color:#5d6968;letter-spacing:0.6px;">-$3,000.00</div>
<div class="a n" style="left:628.5px;top:1011px;width:53px;text-align:center;letter-spacing:0.75px;">03/01</div>
<div class="a n" style="left:681.5px;top:1011px;width:53px;text-align:center;letter-spacing:0.75px;">03/20</div>
<div class="a n" style="left:734px;top:1011px;width:64px;text-align:center;">20</div>
<div class="a t" style="left:27.5px;top:1036px;letter-spacing:0.24px;">Porches &amp; Decks</div>
<div class="a n" style="left:361px;top:1036px;width:78.5px;text-align:right;">$5,800.00</div>
<div class="a n" style="left:450px;top:1036px;width:78px;text-align:right;letter-spacing:0.4px;">$5,000.00</div>
<div class="a n" style="left:540px;top:1036px;width:79px;text-align:right;color:#5d6968;letter-spacing:0.6px;">-$800.00</div>
<div class="a n" style="left:628.5px;top:1036px;width:53px;text-align:center;letter-spacing:0.75px;">02/15</div>
<div class="a n" style="left:681.5px;top:1036px;width:53px;text-align:center;letter-spacing:0.75px;">03/17</div>
<div class="a n" style="left:734px;top:1036px;width:64px;text-align:center;">31</div>
<div class="a t" style="left:27.5px;top:1061px;letter-spacing:0.57px;">Appliances</div>
<div class="a n" style="left:361px;top:1061px;width:78.5px;text-align:right;">$3,500.00</div>
<div class="a n" style="left:450px;top:1061px;width:78px;text-align:right;letter-spacing:0.4px;">$4,200.00</div>
<div class="a n" style="left:540px;top:1061px;width:79px;text-align:right;color:#5d6968;letter-spacing:0.6px;">$700.00</div>
<div class="a n" style="left:628.5px;top:1061px;width:53px;text-align:center;letter-spacing:0.75px;">03/18</div>
<div class="a n" style="left:681.5px;top:1061px;width:53px;text-align:center;letter-spacing:0.75px;">03/20</div>
<div class="a n" style="left:734px;top:1061px;width:64px;text-align:center;">3</div>
<div class="a t" style="left:27.5px;top:1086px;letter-spacing:0.08px;">Other 1</div>
<div class="a n" style="left:361px;top:1086px;width:78.5px;text-align:right;">$500.00</div>
<div class="a n" style="left:450px;top:1086px;width:78px;text-align:right;letter-spacing:0.4px;">$400.00</div>
<div class="a n" style="left:540px;top:1086px;width:79px;text-align:right;color:#5d6968;letter-spacing:0.6px;">-$100.00</div>
<div class="a n" style="left:628.5px;top:1086px;width:53px;text-align:center;letter-spacing:0.75px;">03/06</div>
<div class="a n" style="left:681.5px;top:1086px;width:53px;text-align:center;letter-spacing:0.75px;">03/20</div>
<div class="a n" style="left:734px;top:1086px;width:64px;text-align:center;">15</div>
<div class="a t" style="left:27.5px;top:1111px;letter-spacing:0.2px;">Other 2</div>
<div class="a n" style="left:361px;top:1111px;width:78.5px;text-align:right;">$1,200.00</div>
<div class="a n" style="left:450px;top:1111px;width:78px;text-align:right;letter-spacing:0.4px;">$850.00</div>
<div class="a n" style="left:540px;top:1111px;width:79px;text-align:right;color:#5d6968;letter-spacing:0.6px;">-$350.00</div>
<div class="a n" style="left:628.5px;top:1111px;width:53px;text-align:center;letter-spacing:0.75px;">03/11</div>
<div class="a n" style="left:681.5px;top:1111px;width:53px;text-align:center;letter-spacing:0.75px;">03/21</div>
<div class="a n" style="left:734px;top:1111px;width:64px;text-align:center;">11</div>
<div class="a t" style="left:27.5px;top:1136px;letter-spacing:0.2px;">Other 3</div>
<div class="a n" style="left:361px;top:1136px;width:78.5px;text-align:right;">$2,500.00</div>
<div class="a n" style="left:450px;top:1136px;width:78px;text-align:right;letter-spacing:0.4px;">$2,500.00</div>
<div class="a n" style="left:540px;top:1136px;width:79px;text-align:right;color:#5d6968;letter-spacing:0.6px;">$0.00</div>
<div class="a n" style="left:628.5px;top:1136px;width:53px;text-align:center;letter-spacing:0.75px;">03/15</div>
<div class="a n" style="left:681.5px;top:1136px;width:53px;text-align:center;letter-spacing:0.75px;">03/20</div>
<div class="a n" style="left:734px;top:1136px;width:64px;text-align:center;">6</div>
<div class="a t" style="left:27.5px;top:1161px;letter-spacing:0.2px;">Other 4</div>
<div class="a n" style="left:361px;top:1161px;width:78.5px;text-align:right;">$1,500.00</div>
<div class="a n" style="left:450px;top:1161px;width:78px;text-align:right;letter-spacing:0.4px;">$1,300.00</div>
<div class="a n" style="left:540px;top:1161px;width:79px;text-align:right;color:#5d6968;letter-spacing:0.6px;">-$200.00</div>
<div class="a n" style="left:628.5px;top:1161px;width:53px;text-align:center;letter-spacing:0.75px;">03/18</div>
<div class="a n" style="left:681.5px;top:1161px;width:53px;text-align:center;letter-spacing:0.75px;">03/20</div>
<div class="a n" style="left:734px;top:1161px;width:64px;text-align:center;">3</div>
<div class="a t" style="left:27.5px;top:1186px;letter-spacing:0.2px;">Other 5</div>
<div class="a n" style="left:361px;top:1186px;width:78.5px;text-align:right;">$600.00</div>
<div class="a n" style="left:450px;top:1186px;width:78px;text-align:right;letter-spacing:0.4px;">$480.00</div>
<div class="a n" style="left:540px;top:1186px;width:79px;text-align:right;color:#5d6968;letter-spacing:0.6px;">-$120.00</div>
<div class="a n" style="left:628.5px;top:1186px;width:53px;text-align:center;letter-spacing:0.75px;">03/20</div>
<div class="a n" style="left:681.5px;top:1186px;width:53px;text-align:center;letter-spacing:0.75px;">03/23</div>
<div class="a n" style="left:734px;top:1186px;width:64px;text-align:center;">4</div>
</body></html>
